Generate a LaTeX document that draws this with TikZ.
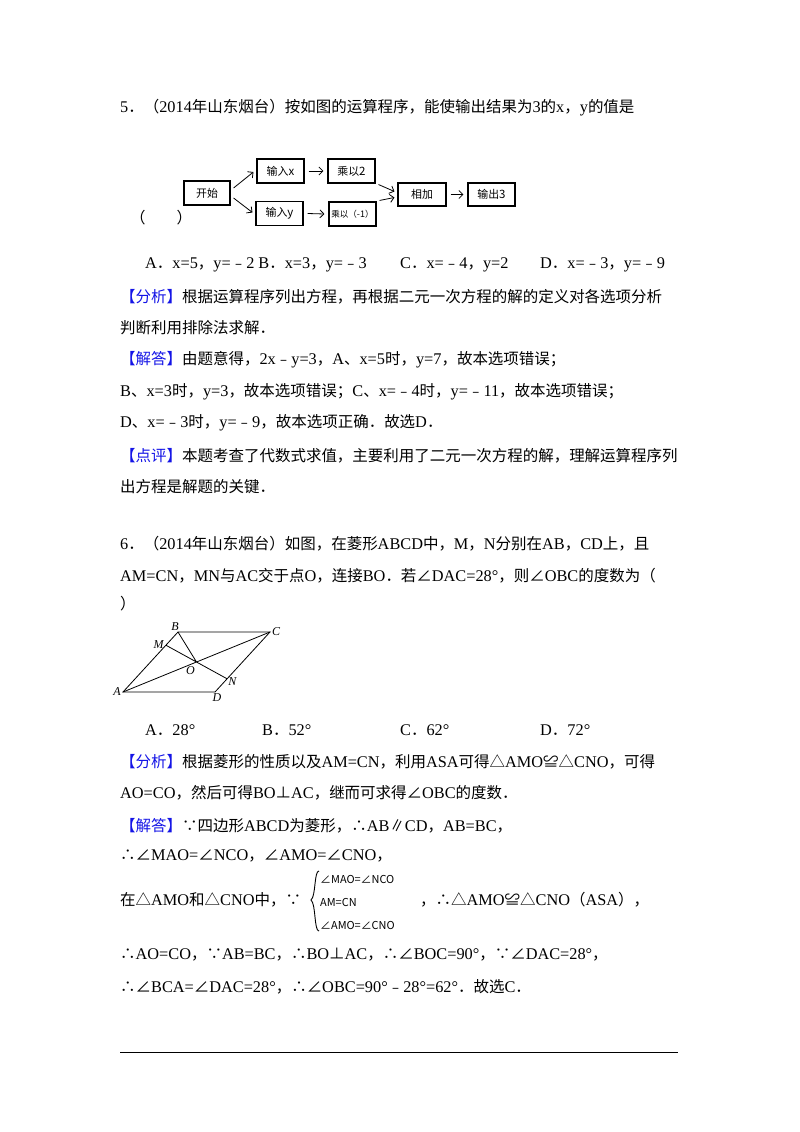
\documentclass[tikz,border=0pt]{standalone}
\usetikzlibrary{arrows.meta,calc}
\usepackage{fontspec}
\setmainfont{Liberation Serif}
\newfontfamily\cjk[Scale=0.95]{Noto Sans CJK SC}
\newfontfamily\boxfont{Noto Sans CJK SC}
\XeTeXinterchartokenstate=1
\newXeTeXintercharclass\cjkclass
\makeatletter
\def\setcjkrange#1#2{\count@=#1\relax\loop\XeTeXcharclass\count@=\cjkclass\advance\count@ 1\relax\ifnum\count@<#2\repeat}
\setcjkrange{"4E00}{"A000}
\setcjkrange{"3000}{"3040}
\setcjkrange{"FF00}{"FFF0}
\setcjkrange{"FE30}{"FE70}
\setcjkrange{"2200}{"2300}
\setcjkrange{"25A0}{"2600}
\setcjkrange{"2010}{"2030}
\makeatother
\XeTeXinterchartoks 0 \cjkclass = {\begingroup\cjk}
\XeTeXinterchartoks 4095 \cjkclass = {\begingroup\cjk}
\XeTeXinterchartoks \cjkclass 0 = {\endgroup}
\XeTeXinterchartoks \cjkclass 4095 = {\endgroup}
\definecolor{tagblue}{RGB}{20,20,230}
\newcommand{\tag}[1]{\textcolor{tagblue}{#1}}
\begin{document}
\begin{tikzpicture}[x=1pt,y=-1pt,
  txt/.style={anchor=west,inner sep=0pt,font=\fontsize{16.3}{18}\selectfont},
  fbox/.style={draw,line width=1.1pt,inner sep=0pt,font=\boxfont\fontsize{11.5}{13}\selectfont,minimum height=24pt},
  farr/.style={-{Straight Barb[length=4pt]},line width=0.8pt},
  geo/.style={line width=0.8pt},
  lab/.style={font=\itshape\fontsize{12}{14}\selectfont,inner sep=0pt}]
\useasboundingbox (0,0) rectangle (800,1132);
\node[txt] (l1) at (120,108) {5．（2014年山东烟台）按如图的运算程序，能使输出结果为3的x，y的值是};
% flowchart
\node[fbox,minimum width=46pt] (s) at (207,193) {开始};
\node[fbox,minimum width=47pt] (ix) at (280.5,171) {输入x};
\node[fbox,minimum width=47pt] (iy) at (279.5,213.5) {输入y};
\node[fbox,minimum width=47pt] (m2) at (351.5,171) {乘以2};
\node[fbox,minimum width=47pt,font=\boxfont\fontsize{9}{11}\selectfont] (m1) at (352.5,214) {乘以（-1）};
\node[fbox,minimum width=48pt,minimum height=23pt] (add) at (422,194.5) {相加};
\node[fbox,minimum width=47pt,minimum height=23pt] (out) at (491.5,194.5) {输出3};
\draw[farr] ([xshift=3pt,yshift=5pt]s.east) -- ([xshift=-3pt,yshift=-1pt]ix.west);
\draw[farr] ([xshift=3pt,yshift=-5pt]s.east) -- ([xshift=-3pt,yshift=1pt]iy.west);
\draw[farr] ([xshift=4pt]ix.east) -- ([xshift=-4pt]m2.west);
\draw[farr] ([xshift=4pt]iy.east) -- ([xshift=-4pt]m1.west);
\draw[farr] ([xshift=3pt,yshift=-1pt]m2.south east) -- ([xshift=-3pt,yshift=3pt]add.west);
\draw[farr] ([xshift=3pt,yshift=1pt]m1.north east) -- ([xshift=-3pt,yshift=-3pt]add.west);
\draw[farr] ([xshift=4pt]add.east) -- ([xshift=-4pt]out.west);
\node[txt] (p1) at (130,218) {（　　）};
\node[txt] (a1) at (145,265) {A．x=5，y=﹣2 B．x=3，y=﹣3};
\node[txt] (c1) at (400,265) {C．x=﹣4，y=2};
\node[txt] (d1) at (540,265) {D．x=﹣3，y=﹣9};
\node[txt] (f1) at (120,297) {\tag{【分析】}根据运算程序列出方程，再根据二元一次方程的解的定义对各选项分析};
\node[txt] (f2) at (120,328) {判断利用排除法求解．};
\node[txt] (j1) at (120,360) {\tag{【解答】}由题意得，2x﹣y=3，A、x=5时，y=7，故本选项错误；};
\node[txt] (j2) at (120,392) {B、x=3时，y=3，故本选项错误；C、x=﹣4时，y=﹣11，故本选项错误；};
\node[txt] (j3) at (120,423) {D、x=﹣3时，y=﹣9，故本选项正确．故选D．};
\node[txt] (k1) at (120,456) {\tag{【点评】}本题考查了代数式求值，主要利用了二元一次方程的解，理解运算程序列};
\node[txt] (k2) at (120,487) {出方程是解题的关键．};
\node[txt] (q1) at (120,544) {6．（2014年山东烟台）如图，在菱形ABCD中，M，N分别在AB，CD上，且};
\node[txt] (q2) at (120,576) {AM=CN，MN与AC交于点O，连接BO．若∠DAC=28°，则∠OBC的度数为（};
\node[txt] (q3) at (120,604) {）};
% rhombus
\coordinate (A) at (123,692);
\coordinate (B) at (178,632);
\coordinate (C) at (270,632);
\coordinate (D) at (215,692);
\coordinate (O) at ($(A)!0.5!(C)$);
\coordinate (M) at ($(A)!0.78!(B)$);
\coordinate (N) at ($(C)!0.78!(D)$);
\draw[geo] (A) -- (B) -- (C) -- (D) -- cycle;
\draw[geo] (A) -- (C) (M) -- (N) (B) -- (O);
\node[lab,anchor=east] at ([xshift=-2pt]A) {A};
\node[lab,anchor=south] at ([xshift=-3pt,yshift=1pt]B) {B};
\node[lab,anchor=west] at ([xshift=2pt]C) {C};
\node[lab,anchor=north] at ([xshift=2pt,yshift=-1pt]D) {D};
\node[lab,anchor=east] at ([xshift=-2pt,yshift=1pt]M) {M};
\node[lab,anchor=north] at ([xshift=-6pt,yshift=-4pt]O) {O};
\node[lab,anchor=west] at ([xshift=1pt,yshift=-3pt]N) {N};
\node[txt] (o1) at (145,730) {A．28°};
\node[txt] (o2) at (262,730) {B．52°};
\node[txt] (o3) at (400,730) {C．62°};
\node[txt] (o4) at (540,730) {D．72°};
\node[txt] (g1) at (120,762) {\tag{【分析】}根据菱形的性质以及AM=CN，利用ASA可得△AMO≌△CNO，可得};
\node[txt] (g2) at (120,793) {AO=CO，然后可得BO⊥AC，继而可求得∠OBC的度数．};
\node[txt] (h1) at (120,826) {\tag{【解答】}∵四边形ABCD为菱形，∴AB∥CD，AB=BC，};
\node[txt] (h2) at (120,856) {∴∠MAO=∠NCO，∠AMO=∠CNO，};
\node[txt] (h3) at (120,900) {在△AMO和△CNO中，∵};
\draw[line width=0.9pt] (319,871) coordinate (bt) .. controls (314,871) and (316,896) .. (311,900) coordinate (bm) .. controls (316,904) and (314,931) .. (319,931) coordinate (bb);
\node[anchor=west,inner sep=0pt,font=\cjk\fontsize{11.5}{13}\selectfont] (e1) at (320,879) {∠MAO=∠NCO};
\node[anchor=west,inner sep=0pt,font=\cjk\fontsize{11.5}{13}\selectfont] (e2) at (320,902) {AM=CN};
\node[anchor=west,inner sep=0pt,font=\cjk\fontsize{11.5}{13}\selectfont] (e3) at (320,925) {∠AMO=∠CNO};
\node[txt] (h4) at (420,900) {，∴△AMO≌△CNO（ASA），};
\node[txt] (h5) at (120,955) {∴AO=CO，∵AB=BC，∴BO⊥AC，∴∠BOC=90°，∵∠DAC=28°，};
\node[txt] (h6) at (120,987) {∴∠BCA=∠DAC=28°，∴∠OBC=90°﹣28°=62°．故选C．};
\draw[line width=0.8pt] (120,1052) coordinate (r1) -- (678,1052) coordinate (r2);
\end{tikzpicture}
\end{document}
